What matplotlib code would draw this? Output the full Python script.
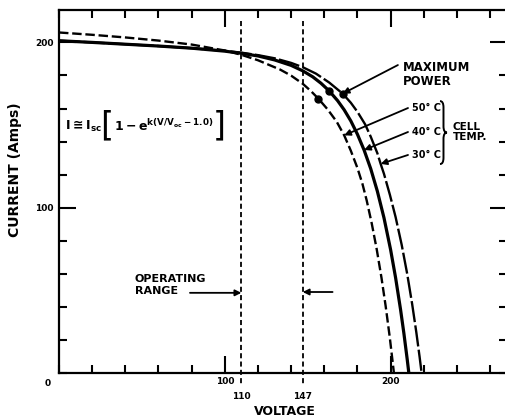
import matplotlib
matplotlib.use('Agg')
import matplotlib.pyplot as plt
from matplotlib.path import Path
from matplotlib.patches import PathPatch

# 讀圖估計的資料 (電壓 V, 電流 A)
v_50 = [0, 20, 40, 60, 80, 100, 110, 120, 133.3, 140, 147, 152, 156.4, 162, 167.5, 172, 176, 180, 183, 185.6, 188.6, 191.6, 194.5, 197, 199.5, 202]
i_50 = [206, 204.6, 203, 201.1, 198.7, 195.1, 192.5, 189.2, 183.6, 179.9, 175, 170.5, 166, 159.5, 152, 143.8, 134.5, 124, 114.5, 104.3, 90.6, 75, 57.6, 40.6, 21.6, 0]

v_40 = [0, 20, 40, 60, 80, 100, 110, 120, 130, 140, 147, 153, 158, 163, 168, 172, 176, 180, 184, 188, 192, 196, 200, 203, 206, 208, 210, 211]
i_40 = [201, 200, 198.9, 197.8, 196.5, 194.7, 193.4, 191.8, 189.4, 186.1, 182.8, 179.2, 175.3, 170.6, 164.8, 159.2, 152.5, 144.4, 134.9, 123.6, 110, 93.9, 74.6, 57.7, 38.4, 24.1, 8.4, 0]

v_30 = [0, 20, 40, 60, 80, 100, 110, 120, 130, 140, 147, 155, 163, 171.1, 176, 180, 184.6, 188, 192, 194, 196, 199.6, 203, 206.7, 210, 213, 215.5, 217.5, 218.7]
i_30 = [201, 200, 198.9, 197.8, 196.5, 194.9, 193.8, 192.3, 190.4, 187.6, 185, 181.1, 175.7, 169, 163.5, 158, 150.5, 143, 133, 126.5, 120.5, 107.7, 94.4, 77.5, 60, 41.7, 24.7, 9.7, 0]

# 最大功率點 (各曲線上的點)
mp_v = [156.4, 163, 171.1]
mp_i = [166, 170.6, 169]

# 工作範圍
op_range = [110, 147]

plt.rcParams['font.family'] = ['DejaVu Sans']
plt.rcParams['font.weight'] = 'bold'
plt.rcParams['mathtext.default'] = 'bf'

fig = plt.figure(figsize=(5.06, 4.19), dpi=100)
ax = fig.add_axes([59 / 506, 46 / 419, 270 * 1.658 / 506, 363 / 419])
ax.set_xlim(0, 270)
ax.set_ylim(0, 219.6)

# 三條溫度曲線
ax.plot(v_50, i_50, color='black', lw=1.7, dashes=(4, 1.6))
ax.plot(v_40, i_40, color='black', lw=2.3)
ax.plot(v_30, i_30, color='black', lw=1.7, dashes=(9, 1.4))
ax.plot(mp_v, mp_i, 'o', color='black', ms=5)

# 工作範圍虛線
for v in op_range:
    ax.plot([v, v], [213, -8], color='black', lw=1.3, dashes=(2.8, 1.8), clip_on=False)

# 座標軸與刻度
for s in ['left', 'bottom', 'top']:
    ax.spines[s].set_linewidth(1.6)
ax.spines['right'].set_visible(False)
ax.set_xticks([100, 200])
ax.set_xticks(range(0, 270, 20), minor=True)
ax.set_yticks([100, 200])
ax.set_yticks(range(0, 220, 20), minor=True)
ax.tick_params(which='both', direction='in', top=True, right=True, width=1.5)
ax.tick_params(which='major', length=12, labelsize=6.5, pad=4)
ax.tick_params(which='minor', length=6)
ax.tick_params(axis='x', which='major', pad=3)

ax.text(-0.025, -0.028, '0', transform=ax.transAxes, ha='center', va='center', fontsize=6.5)
for v in op_range:
    ax.annotate(str(v), xy=(v, 0), xycoords='data', xytext=(0, -17), textcoords='offset points',
                ha='center', va='center', fontsize=6.5)

fig.text(0.563, 0.017, 'VOLTAGE', ha='center', va='center', fontsize=9)
fig.text(0.03, 0.594, 'CURRENT (Amps)', ha='center', va='center', rotation=90, fontsize=10)

# 公式
ax.text(3.6, 149.4, r'$I \cong I_{sc}$', ha='left', va='center', fontsize=9)
ax.text(24.8, 149.4, '[', ha='left', va='center', fontsize=24, fontweight='normal')
ax.text(33, 149.4, r'$1 - e^{k(V/V_{oc} - 1.0)}$', ha='left', va='center', fontsize=9)
ax.text(93, 149.4, ']', ha='left', va='center', fontsize=24, fontweight='normal')

arrow = dict(arrowstyle='-|>', lw=1.3, color='black', mutation_scale=9, shrinkA=0, shrinkB=0)

# 最大功率
ax.text(207.5, 180.5, 'MAXIMUM\nPOWER', ha='left', va='center', fontsize=8.5, linespacing=1.1)
ax.annotate('', xy=(mp_v[2], mp_i[2]), xytext=(204.4, 186.3), arrowprops=arrow)

# 電池溫度
temps = ['50° C', '40° C', '30° C']
temp_y = [160.3, 145.8, 131.9]
targets = [(v_50[15], i_50[15]), (v_40[18], i_40[18]), (v_30[19], i_30[19])]
for t, y, xy in zip(temps, temp_y, targets):
    ax.text(212.9, y, t, ha='left', va='center', fontsize=7)
    ax.annotate('', xy=xy, xytext=(210.5, y), arrowprops=arrow)

# 大括號
x0, w, top, bot = 229.8, 4.2, 164.5, 126.4
ym = (top + bot) / 2
r = (top - bot) * 0.1
xm = x0 + w / 2
verts = [(x0, top), (xm, top), (xm, top - r), (xm, ym + r), (xm, ym), (x0 + w, ym),
         (xm, ym), (xm, ym - r), (xm, bot + r), (xm, bot), (x0, bot)]
codes = [Path.MOVETO, Path.CURVE3, Path.CURVE3, Path.LINETO, Path.CURVE3, Path.CURVE3,
         Path.CURVE3, Path.CURVE3, Path.LINETO, Path.CURVE3, Path.CURVE3]
ax.add_patch(PathPatch(Path(verts, codes), fill=False, lw=1.4, color='black', clip_on=False))
ax.text(237.6, 145.5, 'CELL\nTEMP.', ha='left', va='center', fontsize=7.5, linespacing=1.0)

# 工作範圍標示
ax.text(45.8, 53, 'OPERATING\nRANGE', ha='left', va='center', fontsize=8, linespacing=1.25)
ax.annotate('', xy=(op_range[0], 48.5), xytext=(79, 48.5), arrowprops=arrow)
ax.annotate('', xy=(op_range[1], 49), xytext=(165, 49), arrowprops=arrow)

plt.savefig('out.png', dpi=100)
